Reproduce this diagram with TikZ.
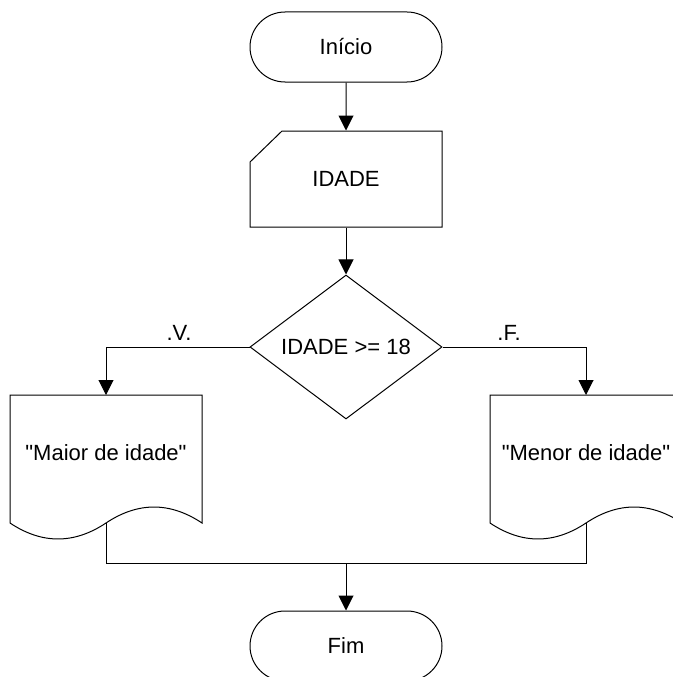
\documentclass[tikz,border=0pt]{standalone}
\usepackage{fontspec}
% plain straight quotes: no TeX-style quote mapping
\setmainfont{Liberation Sans}[Ligatures=TeXOff]
\usetikzlibrary{arrows.meta,shapes.misc,shapes.geometric}

\tikzset{
  base/.style={font=\fontsize{22}{26}\selectfont, line width=1pt},
  terminal/.style={rounded rectangle, rounded rectangle arc length=180, draw,
    minimum width=192pt, minimum height=70pt, inner sep=0pt},
  textbox/.style={minimum width=192pt, inner sep=0pt},
  decision/.style={diamond, draw, minimum width=192pt, minimum height=144pt,
    inner sep=0pt, aspect=1.333},
  flow/.style={-{Triangle[length=15pt,width=15pt]}},
  branchlabel/.style={inner sep=0pt},
  % printed document: flat top, wavy bottom; origin at the top centre
  docshape/.pic={
    \draw (-96,0) -- (96,0) -- (96,128)
      .. controls (64,106.7) and (32,106.7) .. (0,128)
      .. controls (-32,149.3) and (-64,149.3) .. (-96,128) -- cycle;
  }
}

\begin{document}
\begin{tikzpicture}[x=1pt, y=-1pt, base]
  \useasboundingbox (0,0) rectangle (672,677);

  % start
  \node[terminal] (inicio) at (346,47) {Início};

  % manual input with cut top-left corner
  \draw (282,131) -- (442,131) -- (442,227) -- (250,227) -- (250,162) -- cycle;
  \node[textbox, minimum height=96pt] (idade) at (346,179) {IDADE};

  % test
  \node[decision] (teste) at (346,347) {IDADE >= 18};

  % outputs
  \pic at (106,395) {docshape};
  \node[textbox, minimum height=114pt, anchor=north] (maior) at (106,395) {"Maior de idade"};
  \coordinate (maiorB) at (106,523);

  \pic at (586,395) {docshape};
  \node[textbox, minimum height=114pt, anchor=north] (menor) at (586,395) {"Menor de idade"};
  \coordinate (menorB) at (586,523);

  % end
  \coordinate (juncao) at (346,563);
  \node[terminal] (fim) at (346,646) {Fim};

  % connectors
  \draw[flow] (inicio) -- (idade);
  \draw[flow] (idade) -- (teste);
  \draw[flow] (teste.west) -| (maior.north);
  \draw[flow] (teste.east) -| (menor.north);
  \draw (maiorB) -- (maiorB |- juncao) -- (menorB |- juncao) -- (menorB);
  \draw[flow] (juncao) -- (fim);

  % branch labels
  \node[branchlabel] (rotV) at (179,333) {.V.};
  \node[branchlabel] (rotF) at (509,333) {.F.};
\end{tikzpicture}
\end{document}
